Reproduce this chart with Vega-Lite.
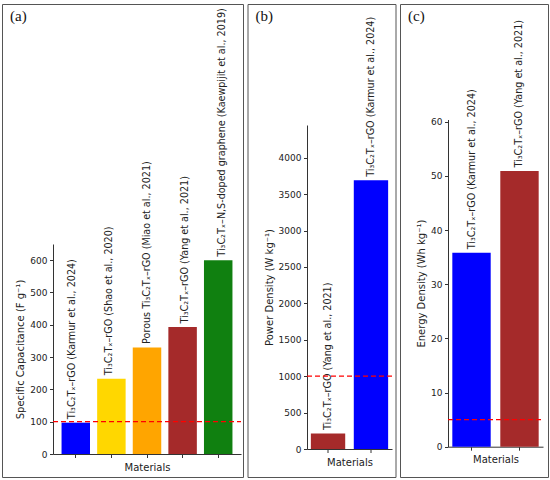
{
  "$schema": "https://vega.github.io/schema/vega-lite/v6.json",
  "padding": {"left": 1, "top": 3, "right": 0, "bottom": 0},
  "background": "white",
  "bounds": "flush",
  "spacing": 4.5,
  "config": {
    "view": {"stroke": "#555", "strokeWidth": 1},
    "axis": {
      "grid": false,
      "labelFont": "DejaVu Sans",
      "labelFontSize": 9,
      "labelColor": "#222",
      "titleFont": "DejaVu Sans",
      "titleFontSize": 10,
      "titleFontWeight": "normal",
      "titleColor": "#222",
      "domainColor": "#333",
      "tickColor": "#333",
      "tickSize": 3.5,
      "labelPadding": 2.5,
      "format": "d"
    },
    "text": {"font": "DejaVu Sans", "fontSize": 9.6, "color": "#222"},
    "title": {"font": "Liberation Serif", "fontSize": 15, "fontWeight": "normal", "color": "#111"}
  },
  "datasets": {
    "cap": [
      {"m": "Ti₃C₂Tₓ–rGO (Karmur et al., 2024)", "v": 97},
      {"m": "Ti₃C₂Tₓ–rGO (Shao et al., 2020)", "v": 233},
      {"m": "Porous Ti₃C₂Tₓ–rGO (Miao et al., 2021)", "v": 330},
      {"m": "Ti₃C₂Tₓ–rGO (Yang et al., 2021)", "v": 393},
      {"m": "Ti₃C₂Tₓ–N,S-doped graphene (Kaewpijit et al., 2019)", "v": 600}
    ],
    "pow": [
      {"m": "Ti₃C₂Tₓ–rGO (Yang et al., 2021)", "v": 213},
      {"m": "Ti₃C₂Tₓ–rGO (Karmur et al., 2024)", "v": 3690}
    ],
    "ene": [
      {"m": "Ti₃C₂Tₓ–rGO (Karmur et al., 2024)", "v": 35.8},
      {"m": "Ti₃C₂Tₓ–rGO (Yang et al., 2021)", "v": 50.9}
    ]
  },
  "hconcat": [
    {
      "width": 241,
      "height": 473,
      "title": {"text": "(a)", "anchor": "start", "frame": "group", "offset": -20, "dx": 8},
      "resolve": {"scale": {"x": "independent"}},
      "layer": [
        {
          "data": {"name": "cap"},
          "mark": {"type": "bar"},
          "encoding": {
            "x": {"field": "m", "type": "nominal", "sort": null,
              "scale": {"range": [51, 239], "paddingInner": 0.2, "paddingOuter": 0.24},
              "axis": {"labels": false, "title": "Materials", "offset": -23}},
            "y": {"field": "v", "type": "quantitative",
              "scale": {"domain": [0, 650], "range": [450, 240], "nice": false},
              "axis": {"values": [0, 100, 200, 300, 400, 500, 600], "offset": -51},
              "title": "Specific Capacitance (F g⁻¹)"},
            "color": {"field": "m", "type": "nominal", "legend": null,
              "scale": {"domain": ["Ti₃C₂Tₓ–rGO (Karmur et al., 2024)", "Ti₃C₂Tₓ–rGO (Shao et al., 2020)", "Porous Ti₃C₂Tₓ–rGO (Miao et al., 2021)", "Ti₃C₂Tₓ–rGO (Yang et al., 2021)", "Ti₃C₂Tₓ–N,S-doped graphene (Kaewpijit et al., 2019)"],
                "range": ["#0000ff", "#ffd700", "#ffa500", "#a52a2a", "#108010"]}}
          }
        },
        {
          "data": {"name": "cap"},
          "mark": {"type": "text", "angle": 270, "align": "left", "baseline": "middle", "dx": 3.5},
          "encoding": {
            "x": {"field": "m", "type": "nominal", "sort": null,
              "scale": {"range": [51, 239], "paddingInner": 0.2, "paddingOuter": 0.24}, "axis": null},
            "y": {"field": "v", "type": "quantitative", "title": "Specific Capacitance (F g⁻¹)"},
            "text": {"field": "m"}
          }
        },
        {
          "data": {"values": [{"lo": 0, "hi": 1, "t": 100}]},
          "mark": {"type": "rule", "color": "red", "strokeDash": [5, 3], "strokeWidth": 1.3},
          "encoding": {
            "x": {"field": "lo", "type": "quantitative", "scale": {"domain": [0, 1], "range": [51, 239]}, "axis": null},
            "x2": {"field": "hi"},
            "y": {"field": "t", "type": "quantitative", "title": "Specific Capacitance (F g⁻¹)"}
          }
        }
      ]
    },
    {
      "width": 148,
      "height": 473,
      "title": {"text": "(b)", "anchor": "start", "frame": "group", "offset": -20, "dx": 8},
      "resolve": {"scale": {"x": "independent"}},
      "layer": [
        {
          "data": {"name": "pow"},
          "mark": {"type": "bar"},
          "encoding": {
            "x": {"field": "m", "type": "nominal", "sort": null,
              "scale": {"range": [59.5, 144.5], "paddingInner": 0.2, "paddingOuter": 0.09},
              "axis": {"labels": false, "title": "Materials", "offset": -28}},
            "y": {"field": "v", "type": "quantitative",
              "scale": {"domain": [0, 4450], "range": [445, 121], "nice": false},
              "axis": {"values": [0, 500, 1000, 1500, 2000, 2500, 3000, 3500, 4000], "offset": -59.5},
              "title": "Power Density (W kg⁻¹)"},
            "color": {"field": "m", "type": "nominal", "legend": null,
              "scale": {"domain": ["Ti₃C₂Tₓ–rGO (Yang et al., 2021)", "Ti₃C₂Tₓ–rGO (Karmur et al., 2024)"],
                "range": ["#a52a2a", "#0000ff"]}}
          }
        },
        {
          "data": {"name": "pow"},
          "mark": {"type": "text", "angle": 270, "align": "left", "baseline": "middle", "dx": 3.5},
          "encoding": {
            "x": {"field": "m", "type": "nominal", "sort": null,
              "scale": {"range": [59.5, 144.5], "paddingInner": 0.2, "paddingOuter": 0.09}, "axis": null},
            "y": {"field": "v", "type": "quantitative", "title": "Power Density (W kg⁻¹)"},
            "text": {"field": "m"}
          }
        },
        {
          "data": {"values": [{"lo": 0, "hi": 1, "t": 1000}]},
          "mark": {"type": "rule", "color": "red", "strokeDash": [5, 3], "strokeWidth": 1.3},
          "encoding": {
            "x": {"field": "lo", "type": "quantitative", "scale": {"domain": [0, 1], "range": [59.5, 144.5]}, "axis": null},
            "x2": {"field": "hi"},
            "y": {"field": "t", "type": "quantitative", "title": "Power Density (W kg⁻¹)"}
          }
        }
      ]
    },
    {
      "width": 148,
      "height": 473,
      "title": {"text": "(c)", "anchor": "start", "frame": "group", "offset": -20, "dx": 8},
      "resolve": {"scale": {"x": "independent"}},
      "layer": [
        {
          "data": {"name": "ene"},
          "mark": {"type": "bar"},
          "encoding": {
            "x": {"field": "m", "type": "nominal", "sort": null,
              "scale": {"range": [48, 143], "paddingInner": 0.2, "paddingOuter": 0.09},
              "axis": {"labels": false, "title": "Materials", "offset": -30.3}},
            "y": {"field": "v", "type": "quantitative",
              "scale": {"domain": [0, 60.4], "range": [442.7, 115.5], "nice": false},
              "axis": {"values": [0, 10, 20, 30, 40, 50, 60], "offset": -48},
              "title": "Energy Density (Wh kg⁻¹)"},
            "color": {"field": "m", "type": "nominal", "legend": null,
              "scale": {"domain": ["Ti₃C₂Tₓ–rGO (Karmur et al., 2024)", "Ti₃C₂Tₓ–rGO (Yang et al., 2021)"],
                "range": ["#0000ff", "#a52a2a"]}}
          }
        },
        {
          "data": {"name": "ene"},
          "mark": {"type": "text", "angle": 270, "align": "left", "baseline": "middle", "dx": 3.5},
          "encoding": {
            "x": {"field": "m", "type": "nominal", "sort": null,
              "scale": {"range": [48, 143], "paddingInner": 0.2, "paddingOuter": 0.09}, "axis": null},
            "y": {"field": "v", "type": "quantitative", "title": "Energy Density (Wh kg⁻¹)"},
            "text": {"field": "m"}
          }
        },
        {
          "data": {"values": [{"lo": 0, "hi": 1, "t": 5}]},
          "mark": {"type": "rule", "color": "red", "strokeDash": [5, 3], "strokeWidth": 1.3},
          "encoding": {
            "x": {"field": "lo", "type": "quantitative", "scale": {"domain": [0, 1], "range": [48, 143]}, "axis": null},
            "x2": {"field": "hi"},
            "y": {"field": "t", "type": "quantitative", "title": "Energy Density (Wh kg⁻¹)"}
          }
        }
      ]
    }
  ]
}
